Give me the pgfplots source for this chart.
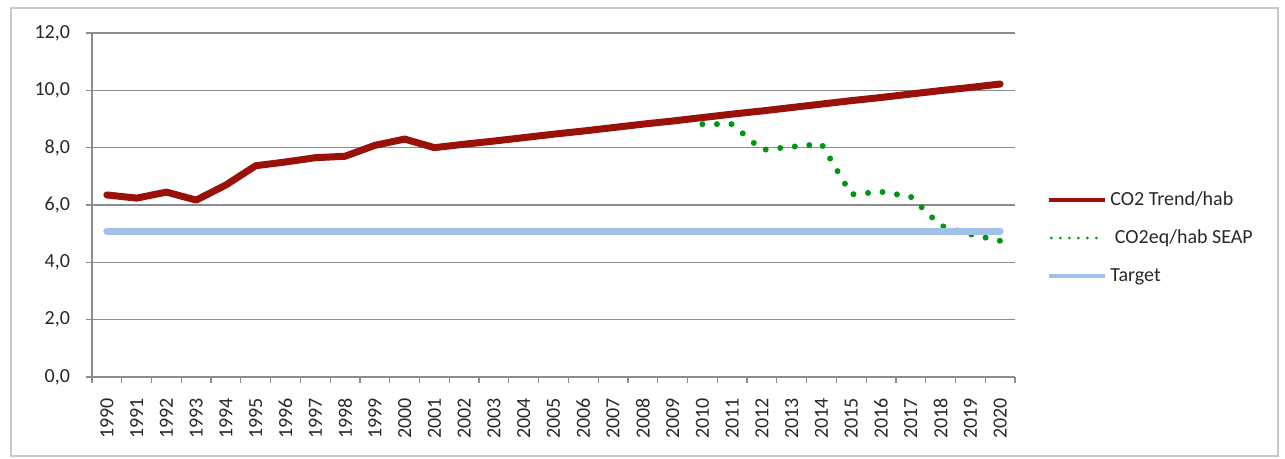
\documentclass[border=0pt]{standalone}
\usepackage{fontspec}
\setmainfont{Carlito}
\usepackage{pgfplots}
\pgfplotsset{compat=1.18}
\definecolor{trendred}{RGB}{153,17,8}
\definecolor{seapgreen}{RGB}{0,150,20}
\definecolor{targetblue}{RGB}{160,194,232}
\definecolor{gridgray}{RGB}{140,140,140}
\definecolor{framegray}{RGB}{200,200,200}
\definecolor{txt}{RGB}{40,40,40}
\begin{document}
\begin{tikzpicture}
\path[use as bounding box] (0,0) rectangle (642.5pt,229.5pt);
\draw[framegray, line width=1pt] (5.5pt,1.5pt) rectangle (639pt,225.5pt);
\begin{axis}[
  at={(46pt,41pt)}, anchor=south west, scale only axis,
  width=461.5pt, height=172pt,
  xmin=-0.5, xmax=30.5, ymin=0, ymax=12,
  axis x line*=bottom, axis y line*=left,
  axis line style={gridgray, line width=0.6pt, -},
  tick style={gridgray, line width=0.6pt},
  tick align=outside, major tick length=3pt,
  ytick={0,2,...,12},
  ymajorgrids, grid style={gridgray, line width=0.6pt},
  xtick={-0.5,0.5,...,30.5}, xticklabels={},
  extra x ticks={0,1,...,30},
  extra x tick labels={1990,1991,1992,1993,1994,1995,1996,1997,1998,1999,2000,2001,2002,2003,2004,2005,2006,2007,2008,2009,2010,2011,2012,2013,2014,2015,2016,2017,2018,2019,2020},
  extra x tick style={major tick length=0pt, grid=none},
  xticklabel style={rotate=90, anchor=east},
  xticklabel shift=7pt, yticklabel shift=4.5pt,
  ticklabel style={font=\fontsize{10}{12}\selectfont, text=txt},
  /pgf/number format/.cd, fixed, fixed zerofill, precision=1, use comma, assume math mode=true,
  /pgfplots/.cd,
  legend style={at={(1.0347,0.404)}, anchor=west, draw=none, fill=none, inner sep=0pt,
    row sep=7pt, font=\fontsize{10}{12}\selectfont, text=txt,
    nodes={inner sep=1.5pt, text height=7pt, text depth=2pt}},
  legend cell align=left,
  legend image code/.code={\draw[#1, line width=2pt, line cap=butt] (0pt,0pt) -- (28pt,0pt);},
]
\addplot[trendred, line width=3.5pt, line join=round, line cap=round] coordinates {
(0,6.35) (1,6.24) (2,6.45) (3,6.17) (4,6.70) (5,7.37) (6,7.50) (7,7.65) (8,7.70) (9,8.08)
(10,8.30) (11,8.00) (12,8.12) (13,8.23) (14,8.35) (15,8.47) (16,8.58) (17,8.70) (18,8.82) (19,8.93)
(20,9.05) (21,9.17) (22,9.28) (23,9.40) (24,9.52) (25,9.64) (26,9.75) (27,9.87) (28,9.99) (29,10.10) (30,10.22)};
\addlegendentry{CO2 Trend/hab}
\addplot[seapgreen, line width=3pt, line cap=round, line join=round, dash pattern=on 0pt off 7.3pt,
  legend image code/.code={\draw[seapgreen, line width=1.5pt, line cap=round, dash pattern=on 0pt off 4.5pt] (1pt,0pt) -- (28pt,0pt);}] coordinates {
(20,8.82) (21,8.82) (22,7.92) (23,8.03) (24,8.13) (25,6.37) (26,6.46) (27,6.29) (28,5.28) (29,4.98) (30,4.75)};
\addlegendentry{\ CO2eq/hab SEAP}
\addplot[targetblue, line width=3.5pt, line cap=round] coordinates {
(0,5.09) (1,5.09) (2,5.09) (3,5.09) (4,5.09) (5,5.09) (6,5.09) (7,5.09) (8,5.09) (9,5.09)
(10,5.09) (11,5.09) (12,5.09) (13,5.09) (14,5.09) (15,5.09) (16,5.09) (17,5.09) (18,5.09) (19,5.09)
(20,5.09) (21,5.09) (22,5.09) (23,5.09) (24,5.09) (25,5.09) (26,5.09) (27,5.09) (28,5.09) (29,5.09) (30,5.09)};
\addlegendentry{Target}
\end{axis}
\end{tikzpicture}
\end{document}
